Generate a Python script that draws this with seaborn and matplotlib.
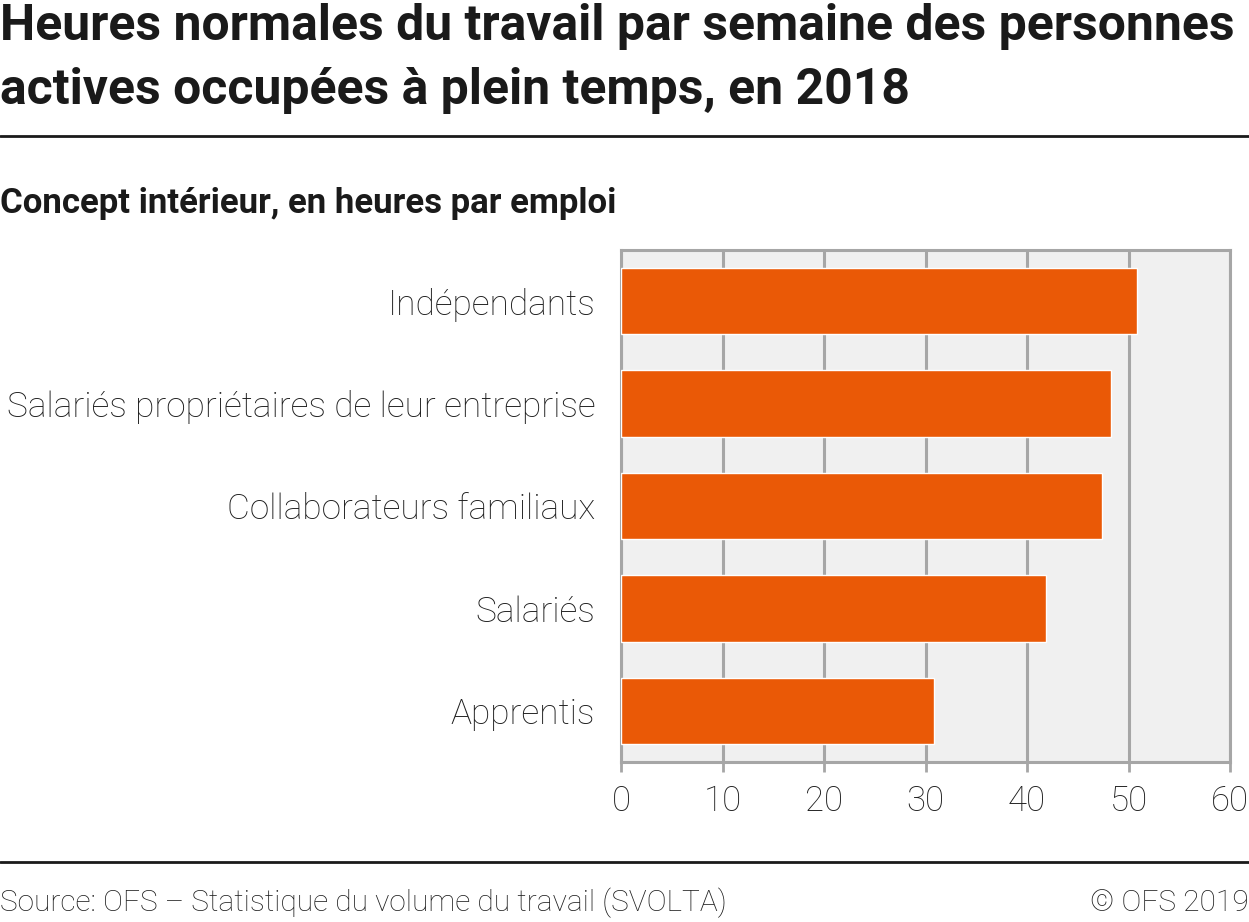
import pandas as pd
import matplotlib.pyplot as plt
import matplotlib.lines as mlines
import seaborn as sns

sns.set_theme(style="white")
plt.rcParams["font.family"] = ["Roboto", "DejaVu Sans"]

## DATA
categories = [
    "Indépendants",
    "Salariés propriétaires de leur entreprise",
    "Collaborateurs familiaux",
    "Salariés",
    "Apprentis",
]
hours = [50.8, 48.3, 47.4, 41.9, 30.8]
x_ticks = [0, 10, 20, 30, 40, 50, 60]

df = pd.DataFrame({"category": categories, "hours": hours})

BAR_COLOR = "#ea5906"
GRID_COLOR = "#a6a6a6"

fig = plt.figure(figsize=(12.49, 9.22), dpi=100)
ax = fig.add_axes([621 / 1249, 1 - 762 / 922, (1230 - 621) / 1249, (762 - 250) / 922])

sns.barplot(data=df, y="category", x="hours", orient="h", color=BAR_COLOR,
            width=0.65, saturation=1, ax=ax, zorder=3)

ax.set_facecolor("#f0f0f0")
ax.set_xlim(0, 60)
ax.set_ylim(4.5, -0.5)
ax.set_xticks(x_ticks)
ax.set_xticklabels([str(t) for t in x_ticks])
ax.grid(axis="x", color=GRID_COLOR, linewidth=2.2, zorder=0)
ax.grid(axis="y", visible=False)
ax.set_axisbelow(True)
for side in ["top", "right", "left", "bottom"]:
    ax.spines[side].set_visible(True)
    ax.spines[side].set_color(GRID_COLOR)
    ax.spines[side].set_linewidth(2.2)
ax.set_xlabel("")
ax.set_ylabel("")
ax.tick_params(axis="x", bottom=True, length=7, width=2, color=GRID_COLOR,
               labelsize=25, labelcolor="#1e1e1e", pad=9)
ax.tick_params(axis="y", left=False, labelsize=25.4, labelcolor="#1e1e1e", pad=12.5)
for lbl in ax.get_xticklabels() + ax.get_yticklabels():
    lbl.set_fontweight("light")

# titles
fig.text(0.0, 1 - 27 / 922, "Heures normales du travail par semaine des personnes",
         fontsize=35.9, fontweight="bold", color="#1a1a1a", va="center", ha="left")
fig.text(0.0, 1 - 90 / 922, "actives occupées à plein temps, en 2018",
         fontsize=35.9, fontweight="bold", color="#1a1a1a", va="center", ha="left")
fig.text(0.0, 1 - 203 / 922, "Concept intérieur, en heures par emploi",
         fontsize=25, fontweight="bold", color="#1a1a1a", va="center", ha="left")

# footer
fig.text(0.0, 1 - 903 / 922, "Source: OFS – Statistique du volume du travail (SVOLTA)",
         fontsize=21.5, fontweight="light", color="#1e1e1e", va="center", ha="left")
fig.text(1.0, 1 - 903 / 922, "© OFS 2019",
         fontsize=21.5, fontweight="light", color="#1e1e1e", va="center", ha="right")

# separator lines
for y in [136, 862]:
    fig.add_artist(mlines.Line2D([0, 1], [1 - y / 922, 1 - y / 922],
                                 color="#1a1a1a", linewidth=2, transform=fig.transFigure))

fig.savefig("out.png", dpi=100)
